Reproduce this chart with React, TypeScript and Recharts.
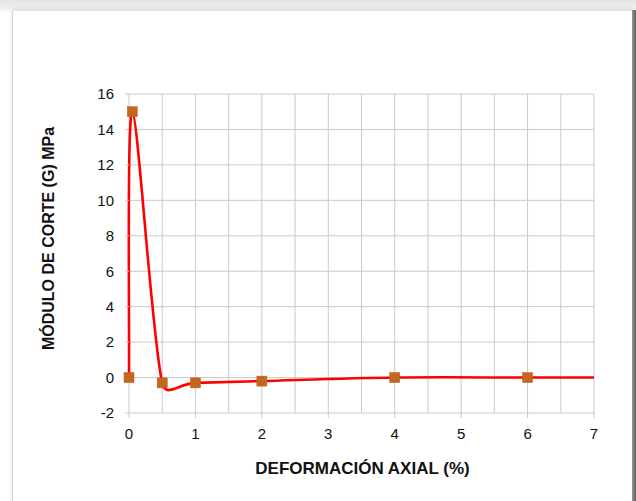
import { CartesianGrid, Line, LineChart, XAxis, YAxis } from "recharts";

// deformación axial (%) vs módulo de corte (MPa)
const deformacion = [0, 0.05, 0.5, 1, 2, 4, 6, 7];
const modulo = [0, 15, -0.3, -0.3, -0.2, 0, 0, 0];
const conMarcador = [true, true, true, true, true, true, true, false];

const xTicks = [0, 1, 2, 3, 4, 5, 6, 7];
const yTicks = [-2, 0, 2, 4, 6, 8, 10, 12, 14, 16];
const xGrid = [0, 0.5, 1, 1.5, 2, 2.5, 3, 3.5, 4, 4.5, 5, 5.5, 6, 6.5, 7];

const data = deformacion.map((x, i) => ({ x, g: modulo[i], mark: conMarcador[i] }));

const GRID = "#c9c9c9";
const FONT = "'Liberation Sans', Arial, sans-serif";

// spreadsheet-style smoothing: Catmull-Rom legs of 1/6, capped at half the segment
const smoothCurve = (context: any) => {
  let pts: number[][] = [];
  return {
    areaStart() {},
    areaEnd() {},
    lineStart() {
      pts = [];
    },
    point(x: number, y: number) {
      pts.push([+x, +y]);
    },
    lineEnd() {
      const n = pts.length;
      if (!n) return;
      context.moveTo(pts[0][0], pts[0][1]);
      for (let i = 0; i < n - 1; i++) {
        const p0 = pts[Math.max(0, i - 1)];
        const p1 = pts[i];
        const p2 = pts[i + 1];
        const p3 = pts[Math.min(n - 1, i + 2)];
        const half = Math.hypot(p2[0] - p1[0], p2[1] - p1[1]) / 2;
        const leg = (a: number[], b: number[]) => {
          let dx = (b[0] - a[0]) / 6;
          let dy = (b[1] - a[1]) / 6;
          const len = Math.hypot(dx, dy);
          if (len > half && len > 0) {
            dx *= half / len;
            dy *= half / len;
          }
          return [dx, dy];
        };
        const t1 = leg(p0, p2);
        const t2 = leg(p1, p3);
        context.bezierCurveTo(
          p1[0] + t1[0],
          p1[1] + t1[1],
          p2[0] - t2[0],
          p2[1] - t2[1],
          p2[0],
          p2[1]
        );
      }
    },
  };
};

const renderMarker = (p: any) => {
  if (!p.payload?.mark) return <g key={`m-${p.index}`} />;
  return (
    <rect
      key={`m-${p.index}`}
      x={p.cx - 5}
      y={p.cy - 5}
      width={10}
      height={10}
      fill="#c4661f"
      stroke="#b95f1c"
      strokeWidth={0.5}
    />
  );
};

const YTitle = ({ viewBox }: any) => (
  <text
    x={48}
    y={viewBox.y + viewBox.height / 2 - 15}
    transform={`rotate(-90, 48, ${viewBox.y + viewBox.height / 2 - 15})`}
    textAnchor="middle"
    dominantBaseline="central"
    fontFamily={FONT}
    fontWeight="bold"
    fontSize={16}
    fill="#111"
  >
    MÓDULO DE CORTE (G) MPa
  </text>
);

const XTitle = ({ viewBox }: any) => (
  <text
    x={viewBox.x + viewBox.width / 2 + 1}
    y={474}
    textAnchor="middle"
    fontFamily={FONT}
    fontWeight="bold"
    fontSize={17}
    fill="#111"
  >
    DEFORMACIÓN AXIAL (%)
  </text>
);

export default function App() {
  return (
    <div
      style={{
        position: "absolute",
        left: 0,
        top: 0,
        width: 636,
        height: 501,
        overflow: "hidden",
        background: "linear-gradient(to bottom, #e4e4e4 0px, #efefef 8px, #ffffff 13px)",
      }}
    >
      <div
        style={{
          position: "absolute",
          left: 12,
          top: 11,
          width: 620,
          height: 495,
          background: "#fff",
          borderLeft: "1px solid #d2d2d2",
          boxShadow: "0 -2px 4px rgba(0,0,0,0.12)",
        }}
      />
      <div
        style={{
          position: "absolute",
          left: 632,
          top: 10,
          width: 4,
          height: 491,
          background: "linear-gradient(to right, #9a9a9a, #5e5e5e)",
        }}
      />
      <div style={{ position: "absolute", left: 0, top: 0 }}>
        <LineChart
          width={636}
          height={501}
          data={data}
          margin={{ top: 94, right: 42, bottom: 28, left: 69 }}
        >
          <CartesianGrid stroke={GRID} verticalValues={xGrid} horizontalValues={yTicks} />
          <XAxis
            dataKey="x"
            type="number"
            domain={[0, 7]}
            ticks={xTicks}
            height={60}
            axisLine={false}
            tickLine={{ stroke: GRID }}
            tickSize={5}
            tickMargin={10}
            tick={{ fill: "#111", fontSize: 15, fontFamily: FONT }}
            label={<XTitle />}
          />
          <YAxis
            type="number"
            domain={[-2, 16]}
            ticks={yTicks}
            width={60}
            axisLine={false}
            tickLine={{ stroke: GRID }}
            tickSize={4}
            tickMargin={11}
            tick={{ fill: "#111", fontSize: 15, fontFamily: FONT }}
            label={<YTitle />}
          />
          <Line
            dataKey="g"
            type={smoothCurve as any}
            stroke="#ff0000"
            strokeWidth={2.6}
            dot={renderMarker}
            activeDot={false}
            isAnimationActive={false}
          />
        </LineChart>
      </div>
    </div>
  );
}
